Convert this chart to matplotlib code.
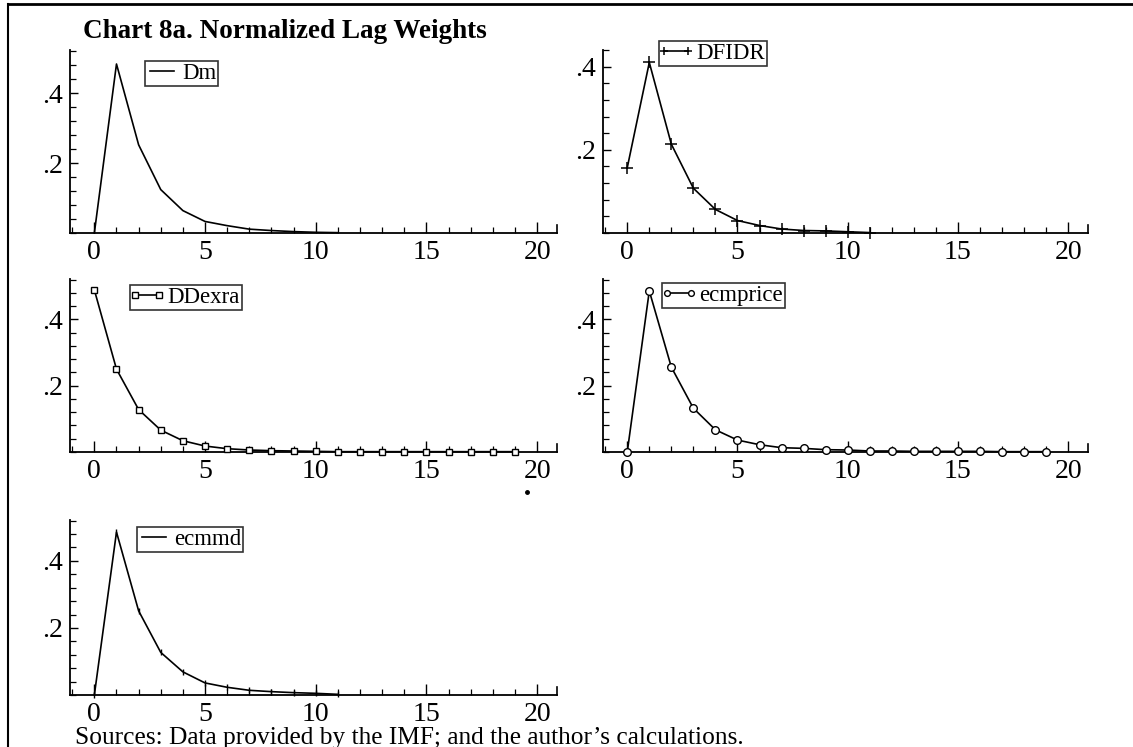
import matplotlib
matplotlib.use("Agg")
import matplotlib.pyplot as plt
from matplotlib.ticker import MultipleLocator, FixedLocator, FixedFormatter
from matplotlib.lines import Line2D
from matplotlib.legend_handler import HandlerLine2D

# ---------------- data ----------------
lags_short = list(range(12))
lags_long = list(range(20))

dm = [0.0, 0.483, 0.252, 0.124, 0.064, 0.033, 0.021, 0.011, 0.007, 0.004, 0.002, 0.001]
dfidr = [0.157, 0.410, 0.2135, 0.1076, 0.0566, 0.030, 0.018, 0.0096, 0.006, 0.005, 0.003, 0.001]
ddexra = [0.489, 0.250, 0.128, 0.066, 0.034, 0.018, 0.010, 0.006, 0.004, 0.003,
          0.002, 0.001, 0.001, 0.001, 0.001, 0.001, 0.001, 0.001, 0.001, 0.001]
ecmprice = [0.0, 0.486, 0.256, 0.132, 0.067, 0.036, 0.022, 0.013, 0.011, 0.007,
            0.006, 0.003, 0.003, 0.002, 0.002, 0.002, 0.002, 0.001, 0.001, 0.001]
ecmmd = [0.0, 0.486, 0.251, 0.127, 0.069, 0.036, 0.023, 0.014, 0.010, 0.007, 0.005, 0.002]

series_names = ["Dm", "DFIDR", "DDexra", "ecmprice", "ecmmd"]
x_ticks = [0, 5, 10, 15, 20]
x_tick_labels = ["0", "5", "10", "15", "20"]
y_ticks = [0.2, 0.4]
y_tick_labels = [".2", ".4"]
title_text = "Chart 8a. Normalized Lag Weights"
source_text = "Sources: Data provided by the IMF; and the author\u2019s calculations."

# ---------------- figure ----------------
W, H = 1133, 747
fig = plt.figure(figsize=(W / 100, H / 100), dpi=100)
plt.rcParams["font.family"] = ["Liberation Serif", "DejaVu Serif"]

def rect(l, r, t, b):
    return [l / W, 1 - b / H, (r - l) / W, (b - t) / H]

def fxy(x, y):
    return (x / W, 1 - y / H)

panels = [
    # name, x, y, rect(px), ylim top, marker kwargs, legend top-left px, legend markers
    (series_names[0], lags_short, dm, (70, 557, 50, 233), 0.523, dict(), (145, 61), True),
    (series_names[1], lags_short, dfidr, (603, 1088, 50, 233), 0.44,
     dict(marker="+", markersize=8, markeredgewidth=1.1), (659, 41), True),
    (series_names[2], lags_long, ddexra, (70, 557, 279, 452), 0.522,
     dict(marker="s", markersize=5, markerfacecolor="white", markeredgewidth=1.0), (130, 285), True),
    (series_names[3], lags_long, ecmprice, (603, 1088, 279, 452), 0.522,
     dict(marker="o", markersize=5.5, markerfacecolor="white", markeredgewidth=1.0), (662, 283), True),
    (series_names[4], lags_short, ecmmd, (70, 557, 520, 695), 0.522,
     dict(marker="|", markersize=5, markeredgewidth=1.0), (137, 527), False),
]

tick_fs = 20
for name, xs, ys, r, ytop, mk, legpos, leg_markers in panels:
    ax = fig.add_axes(rect(*r))
    line, = ax.plot(xs, ys, color="black", lw=1.2, label=name, clip_on=False,
                    zorder=3, **mk)
    ax.set_xlim(-1.1, 20.9)
    ax.set_ylim(0, ytop)
    for s in ("top", "right"):
        ax.spines[s].set_visible(False)
    for s in ("left", "bottom"):
        ax.spines[s].set_linewidth(1.3)
    ax.xaxis.set_major_locator(FixedLocator(x_ticks))
    ax.xaxis.set_major_formatter(FixedFormatter(x_tick_labels))
    ax.xaxis.set_minor_locator(MultipleLocator(1))
    ax.yaxis.set_major_locator(FixedLocator(y_ticks))
    ax.yaxis.set_major_formatter(FixedFormatter(y_tick_labels))
    ax.yaxis.set_minor_locator(MultipleLocator(0.04))
    ax.tick_params(which="major", direction="in", length=8, width=1.0,
                   labelsize=tick_fs, pad=5)
    ax.tick_params(which="minor", direction="in", length=4, width=0.9)
    ax.tick_params(axis="y", which="major", length=6)
    # end tick at right of x axis
    ax.plot([1, 1], [0, 0.045], transform=ax.transAxes, color="black",
            lw=1.2, clip_on=False)
    handle = line if leg_markers else Line2D([], [], color="black", lw=1.2)
    leg = ax.legend(handles=[handle], labels=[name],
                    handler_map={handle: HandlerLine2D(numpoints=2, marker_pad=0.15)},
                    loc="upper left", bbox_to_anchor=fxy(*legpos),
                    bbox_transform=fig.transFigure, borderaxespad=0,
                    frameon=True, fancybox=False, fontsize=16.5,
                    handlelength=1.35, handletextpad=0.2, borderpad=0.08,
                    markerscale=0.75)
    leg.get_frame().set_edgecolor("black")
    leg.get_frame().set_linewidth(1.2)

fig.text(83 / W, 1 - 32 / H, title_text, fontsize=19.5, fontweight="bold",
         va="center", ha="left")
fig.text(75 / W, 1 - 738 / H, source_text, fontsize=18.3, va="center", ha="left")

# outer frame (left and top border)
fig.add_artist(Line2D([8 / W, 8 / W], [0, 1 - 4 / H], color="black", lw=1.5))
fig.add_artist(Line2D([8 / W, 1], [1 - 4 / H, 1 - 4 / H], color="black", lw=2.0))
# small stray dot
fig.add_artist(Line2D([527 / W], [1 - 492 / H], marker="o", markersize=2.5,
                      color="black", lw=0))

fig.savefig("out.png", dpi=100)
